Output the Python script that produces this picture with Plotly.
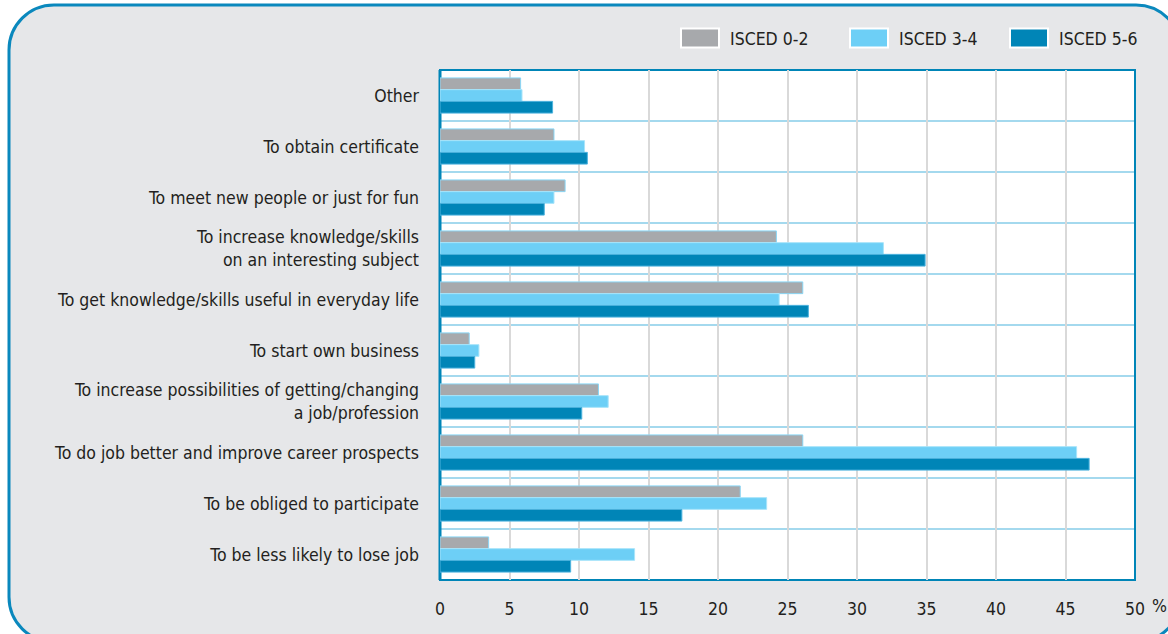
import plotly.graph_objects as go

# Reasons for participating in education, by level of education (%)
categories = [
    "Other",
    "To obtain certificate",
    "To meet new people or just for fun",
    "To increase knowledge/skills<br>on an interesting subject",
    "To get knowledge/skills useful in everyday life",
    "To start own business",
    "To increase possibilities of getting/changing<br>a job/profession",
    "To do job better and improve career prospects",
    "To be obliged to participate",
    "To be less likely to lose job",
]
isced_0_2 = [5.8, 8.2, 9.0, 24.2, 26.1, 2.1, 11.4, 26.1, 21.6, 3.5]
isced_3_4 = [5.9, 10.4, 8.2, 31.9, 24.4, 2.8, 12.1, 45.8, 23.5, 14.0]
isced_5_6 = [8.1, 10.6, 7.5, 34.9, 26.5, 2.5, 10.2, 46.7, 17.4, 9.4]

series_names = ["ISCED 0-2", "ISCED 3-4", "ISCED 5-6"]
series_values = [isced_0_2, isced_3_4, isced_5_6]
series_colors = ["#a7a9ac", "#6dcff6", "#0085b7"]
series_edges = ["#8ad6f5", "#a8e4fa", "#4db3de"]

x_ticks = list(range(0, 51, 5))

FONT = "DejaVu Sans Condensed, Liberation Sans Narrow, Arial Narrow, sans-serif"
FS = 17.5
TEXT = "#231f20"
BG = "#e6e7e9"
FRAME = "#0a88bd"

W, H = 1168, 634
PL, PR, PT, PB = 440, 1135, 70, 580  # plot area in pixels


def px(x):
    return (x - PL) / (PR - PL)


def py(y):
    return (PB - y) / (PB - PT)


fig = go.Figure()
for name, vals, col, edge in zip(series_names, series_values, series_colors, series_edges):
    fig.add_trace(go.Bar(
        y=categories, x=vals, name=name, orientation="h",
        marker=dict(color=col, line=dict(color=edge, width=1)),
        showlegend=False,
    ))

shapes = []

# rounded panel behind everything
L, T, R, B, r = 9, 5, 1181, 642, 45
k = 0.5523 * r
pts = [
    f"M {px(L + r)},{py(T)}",
    f"L {px(R - r)},{py(T)}",
    f"C {px(R - r + k)},{py(T)} {px(R)},{py(T + r - k)} {px(R)},{py(T + r)}",
    f"L {px(R)},{py(B - r)}",
    f"C {px(R)},{py(B - r + k)} {px(R - r + k)},{py(B)} {px(R - r)},{py(B)}",
    f"L {px(L + r)},{py(B)}",
    f"C {px(L + r - k)},{py(B)} {px(L)},{py(B - r + k)} {px(L)},{py(B - r)}",
    f"L {px(L)},{py(T + r)}",
    f"C {px(L)},{py(T + r - k)} {px(L + r - k)},{py(T)} {px(L + r)},{py(T)}",
    "Z",
]
shapes.append(dict(type="path", path=" ".join(pts), xref="paper", yref="paper",
                   fillcolor=BG, line=dict(color=FRAME, width=3), layer="below"))

# white plotting area
shapes.append(dict(type="rect", xref="paper", yref="paper", x0=0, x1=1, y0=0, y1=1,
                   fillcolor="white", line=dict(width=0), layer="below"))

# separators between category rows
for i in range(1, len(categories)):
    shapes.append(dict(type="line", xref="paper", yref="y", x0=0, x1=1,
                       y0=i - 0.5, y1=i - 0.5,
                       line=dict(color="#86cde9", width=1.6), layer="between"))

# plot border
shapes.append(dict(type="rect", xref="paper", yref="paper", x0=0, x1=1, y0=0, y1=1,
                   line=dict(color="#0085b7", width=2), fillcolor="rgba(0,0,0,0)",
                   layer="between"))
shapes.append(dict(type="line", xref="paper", yref="paper", x0=0, x1=0, y0=0, y1=1,
                   line=dict(color="#0085b7", width=3), layer="between"))

annotations = []

# legend row
sw_left = [681, 850, 1010]
for x0, name, col in zip(sw_left, series_names, series_colors):
    shapes.append(dict(type="rect", xref="paper", yref="paper",
                       x0=px(x0), x1=px(x0 + 38), y0=py(47.5), y1=py(28.5),
                       fillcolor=col, line=dict(color="white", width=2), layer="above"))
    annotations.append(dict(xref="paper", yref="paper", x=px(x0 + 47), y=py(38.5),
                            text=name, showarrow=False, xanchor="left", yanchor="middle",
                            font=dict(family=FONT, size=FS, color=TEXT)))

# unit label at the end of the value axis
annotations.append(dict(xref="paper", yref="paper", x=px(1150), y=py(606),
                        text="%", showarrow=False, xanchor="left", yanchor="middle",
                        font=dict(family=FONT, size=FS, color=TEXT)))

fig.update_layout(
    width=W, height=H, autosize=False,
    margin=dict(l=PL, r=W - PR, t=PT, b=H - PB, pad=0),
    paper_bgcolor="white", plot_bgcolor="white",
    barmode="group", bargap=0.31, bargroupgap=0,
    font=dict(family=FONT, size=FS, color=TEXT),
    shapes=shapes, annotations=annotations,
    showlegend=False,
)
fig.update_xaxes(range=[0, 50], tickvals=x_ticks, showgrid=True, automargin=False,
                 gridcolor="#d9d9d9", gridwidth=1.5, zeroline=False, showline=False,
                 ticks="", ticklabelstandoff=16, tickfont=dict(family=FONT, size=FS, color=TEXT))
fig.update_yaxes(autorange="reversed", showgrid=False, zeroline=False, showline=False,
                 automargin=False, ticks="", ticklabelstandoff=20,
                 tickfont=dict(family=FONT, size=FS, color=TEXT))

fig.write_html("out.html")
